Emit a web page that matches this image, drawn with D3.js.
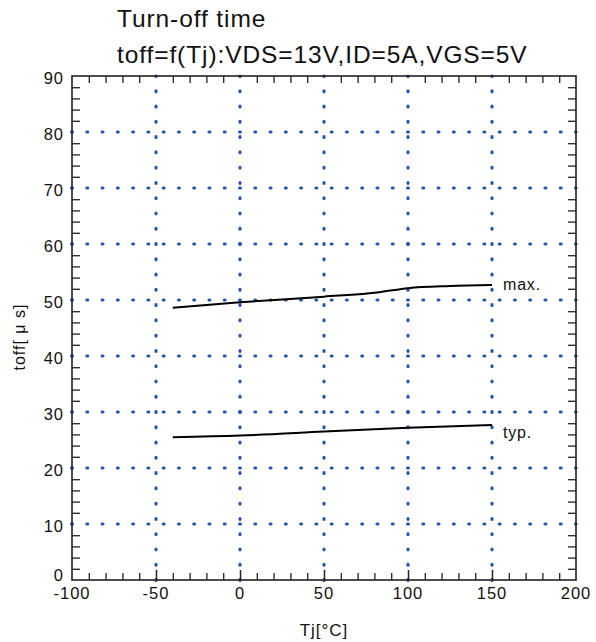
<!DOCTYPE html>
<html><head><meta charset="utf-8">
<script src="https://cdn.jsdelivr.net/npm/d3@7"></script>
<style>body{margin:0;background:#fff}svg{display:block;font-family:"Liberation Sans",Arial,sans-serif}</style>
</head><body>
<svg id="c" width="596" height="642"></svg>
<script>
const xTicks = [-100, -50, 0, 50, 100, 150, 200];
const yTicks = [0, 10, 20, 30, 40, 50, 60, 70, 80, 90];
const tj = [-40, 0, 50, 83, 100, 125, 150];
const toffMax = [48.6, 49.6, 50.6, 51.4, 52.1, 52.5, 52.7];
const tjTyp = [-40, 0, 50, 100, 150];
const toffTyp = [25.5, 25.8, 26.5, 27.2, 27.7];
const seriesLabels = ["max.", "typ."];
const titleLines = ["Turn-off time", "toff=f(Tj):VDS=13V,ID=5A,VGS=5V"];

const svg = d3.select("#c");
const L = 72, R = 576, T = 76, B = 580;
const x = d3.scaleLinear().domain([-100, 200]).range([L, R]);
const y = d3.scaleLinear().domain([0, 90]).range([B, T]);
const gridColor = "#2456ad";
const step = 504 / 33;

// gridlines
const g = svg.append("g");
xTicks.slice(1, -1).forEach(v => {
  g.append("line").attr("x1", x(v)).attr("x2", x(v)).attr("y1", B + 0.4).attr("y2", T)
    .attr("stroke", gridColor).attr("stroke-width", 3.2).attr("stroke-linecap", "round")
    .attr("stroke-dasharray", "0.8 " + (step - 0.8));
});
yTicks.slice(1, -1).forEach(v => {
  g.append("line").attr("x1", L - 0.4).attr("x2", R).attr("y1", y(v)).attr("y2", y(v))
    .attr("stroke", gridColor).attr("stroke-width", 3.2).attr("stroke-linecap", "round")
    .attr("stroke-dasharray", "0.8 " + (step - 0.8));
});

// minor ticks
const minorX = d3.range(-90, 200, 10).filter(v => v % 50 !== 0);
const minorY = d3.range(2, 90, 2).filter(v => v % 10 !== 0);
const axBottom = d3.axisBottom(x).tickValues(minorX).tickSize(-7).tickFormat("");
const axTop = d3.axisTop(x).tickValues(minorX).tickSize(-7).tickFormat("");
const axLeft = d3.axisLeft(y).tickValues(minorY).tickSize(-8).tickFormat("");
const axRight = d3.axisRight(y).tickValues(minorY).tickSize(-8).tickFormat("");
[[axBottom, `translate(0,${B})`], [axTop, `translate(0,${T})`], [axLeft, `translate(${L},0)`], [axRight, `translate(${R},0)`]].forEach(([a, tr]) => {
  const s = svg.append("g").attr("transform", tr).call(a);
  s.select(".domain").remove();
  s.selectAll("line").attr("stroke", "#222").attr("stroke-width", 1.3);
});
// major ticks at bottom
const axMaj = d3.axisBottom(x).tickValues(xTicks.slice(1, -1)).tickSize(-10).tickFormat("");
const sm = svg.append("g").attr("transform", `translate(0,${B})`).call(axMaj);
sm.select(".domain").remove();
sm.selectAll("line").attr("stroke", "#222").attr("stroke-width", 1.5);

// frame
svg.append("rect").attr("x", L).attr("y", T).attr("width", R - L).attr("height", B - T)
  .attr("fill", "none").attr("stroke", "#222").attr("stroke-width", 1.6);

// tick labels
svg.append("g").selectAll("text").data(xTicks).join("text")
  .attr("x", d => x(d)).attr("y", 599).attr("text-anchor", "middle")
  .attr("font-size", 16.5).attr("letter-spacing", 1).attr("fill", "#111").text(d => d);
svg.append("g").selectAll("text").data(yTicks).join("text")
  .attr("x", 64).attr("y", d => y(d) + (d === 0 ? -5 : 2)).attr("dy", "0.35em").attr("text-anchor", "end")
  .attr("font-size", 16.5).attr("letter-spacing", 1).attr("fill", "#111").text(d => d);

// curves
const line = d3.line().x(d => x(d[0])).y(d => y(d[1])).curve(d3.curveMonotoneX);
svg.append("path").datum(d3.zip(tj, toffMax)).attr("d", line)
  .attr("fill", "none").attr("stroke", "#000").attr("stroke-width", 2);
svg.append("path").datum(d3.zip(tjTyp, toffTyp)).attr("d", line)
  .attr("fill", "none").attr("stroke", "#000").attr("stroke-width", 2);

// series labels
svg.append("text").attr("x", x(150) + 11).attr("y", y(toffMax[toffMax.length - 1]) + 5)
  .attr("font-size", 16).attr("letter-spacing", 0.8).attr("fill", "#111").text(seriesLabels[0]);
svg.append("text").attr("x", x(150) + 11).attr("y", y(toffTyp[toffTyp.length - 1]) + 13)
  .attr("font-size", 16).attr("letter-spacing", 0.8).attr("fill", "#111").text(seriesLabels[1]);

// titles
svg.append("text").attr("x", 117).attr("y", 27).attr("font-size", 24.5).attr("letter-spacing", 0.9).attr("fill", "#111").text(titleLines[0]);
svg.append("text").attr("x", 117).attr("y", 63).attr("font-size", 24.5).attr("letter-spacing", 0.9).attr("fill", "#111").text(titleLines[1]);

// axis titles
svg.append("text").attr("x", 324).attr("y", 636).attr("text-anchor", "middle")
  .attr("font-size", 17).attr("letter-spacing", 1).attr("fill", "#111").text("Tj[°C]");
svg.append("text").attr("transform", `translate(25,337) rotate(-90)`)
  .attr("text-anchor", "middle").attr("font-size", 16).attr("letter-spacing", 1).attr("fill", "#111")
  .text("toff[ μ s]");
</script>
</body></html>
